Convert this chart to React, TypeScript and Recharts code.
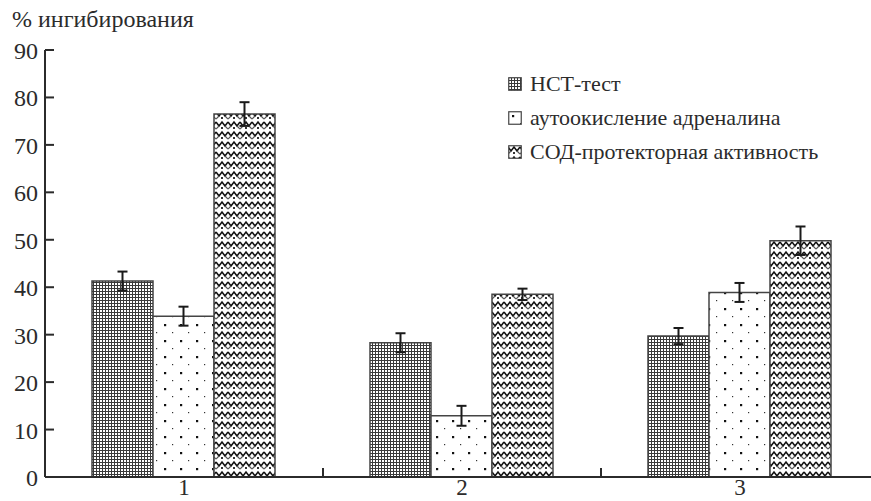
import React from 'react';
import { BarChart, Bar, XAxis, YAxis, ErrorBar, Legend } from 'recharts';

const categories = ['1', '2', '3'];
const nstValues = [41.3, 28.3, 29.7];
const nstErrors = [2.0, 2.0, 1.7];
const adrValues = [33.9, 12.9, 38.9];
const adrErrors = [2.0, 2.1, 2.0];
const sodValues = [76.5, 38.5, 49.8];
const sodErrors = [2.5, 1.2, 3.0];
const seriesNames = ['НСТ-тест', 'аутоокисление адреналина', 'СОД-протекторная активность'];
const patternIds = ['patNst', 'patAdr', 'patSod'];
const yTicks = [0, 10, 20, 30, 40, 50, 60, 70, 80, 90];
const yTitle = '% ингибирования';

const data = categories.map((c, i) => ({
  name: c,
  nst: nstValues[i],
  nstErr: nstErrors[i],
  adr: adrValues[i],
  adrErr: adrErrors[i],
  sod: sodValues[i],
  sodErr: sodErrors[i],
}));

const FONT = 'Liberation Serif, Times New Roman, serif';
const INK = '#2b2b2b';

const XTick = (props: any) => {
  const { x, y, payload, index, visibleTicksCount } = props;
  const half = payload && payload.offset != null ? payload.offset : 139;
  return (
    <g>
      <text x={x} y={y + 18} textAnchor="middle" fontFamily={FONT} fontSize={23} fill={INK}>
        {payload.value}
      </text>
      {index < visibleTicksCount - 1 && (
        <line x1={x + half} x2={x + half} y1={y} y2={y - 9} stroke={INK} strokeWidth={2} />
      )}
    </g>
  );
};

const YTick = (props: any) => {
  const { x, y, payload } = props;
  return (
    <g>
      <line x1={x} x2={x + 9} y1={y} y2={y} stroke={INK} strokeWidth={2} />
      <text x={x - 7} y={y + 9} textAnchor="end" fontFamily={FONT} fontSize={24} fill={INK}>
        {payload.value}
      </text>
    </g>
  );
};

const LegendContent = () => (
  <div style={{ fontFamily: FONT, fontSize: 22, color: INK, whiteSpace: 'nowrap' }}>
    {seriesNames.map((n, i) => (
      <div key={n} style={{ display: 'flex', alignItems: 'center', height: 34 }}>
        <svg width={14} height={14} style={{ marginRight: 8, flex: 'none' }}>
          <rect x={0.75} y={0.75} width={12.5} height={12.5} fill={`url(#${patternIds[i]})`} stroke="#444" strokeWidth={1.2} />
        </svg>
        <span>{n}</span>
      </div>
    ))}
  </div>
);

export default function App() {
  return (
    <div
      style={{
        position: 'fixed',
        left: 0,
        top: 0,
        width: 871,
        height: 501,
        overflow: 'hidden',
        background: '#fff',
      }}
    >
      <div
        style={{
          position: 'absolute',
          left: 12,
          top: 6,
          fontFamily: FONT,
          fontSize: 24,
          color: INK,
          whiteSpace: 'nowrap',
          zIndex: 2,
        }}
      >
        {yTitle}
      </div>
      <BarChart
        width={879}
        height={501}
        data={data}
        margin={{ top: 50, right: 0, bottom: 0, left: 0 }}
        barCategoryGap={47}
        barGap={0}
      >
        <defs>
          <pattern id="patNst" width={3} height={3} patternUnits="userSpaceOnUse">
            <rect width={3} height={3} fill="#fff" />
            <rect width={3} height={1} fill="#3a3a3a" />
            <rect width={1} height={3} fill="#3a3a3a" />
          </pattern>
          <pattern id="patAdr" width={16} height={16} patternUnits="userSpaceOnUse">
            <rect width={16} height={16} fill="#fff" />
            <rect x={4} y={4} width={2.2} height={2.2} fill="#111" />
            <rect x={12} y={12} width={1.2} height={1.2} fill="#333" />
          </pattern>
          <pattern id="patSod" width={12} height={10} patternUnits="userSpaceOnUse">
            <rect width={12} height={10} fill="#fff" />
            <path d="M0,2 L3,6 L6,2 L9,6 L12,2" fill="none" stroke="#111" strokeWidth={1.6} />
            <path d="M0,9 L3,6 M9,6 L12,9" fill="none" stroke="#555" strokeWidth={1.2} />
            <rect x={5} y={7} width={2} height={2} fill="#333" />
          </pattern>
        </defs>
        <XAxis
          dataKey="name"
          axisLine={{ stroke: INK, strokeWidth: 2 }}
          tickLine={false}
          tickSize={0}
          tickMargin={0}
          height={24}
          tick={<XTick />}
          interval={0}
        />
        <YAxis
          domain={[0, 90]}
          ticks={yTicks}
          width={45}
          axisLine={{ stroke: INK, strokeWidth: 2 }}
          tickLine={false}
          tickSize={0}
          tickMargin={0}
          tick={<YTick />}
          interval={0}
        />
        <Legend
          layout="vertical"
          verticalAlign="middle"
          align="center"
          content={<LegendContent />}
          wrapperStyle={{ position: 'absolute', left: 508, top: 67, width: 360, height: 102 }}
        />
        <Bar dataKey="nst" name={seriesNames[0]} fill="url(#patNst)" stroke="#444" strokeWidth={1.5} isAnimationActive={false}>
          <ErrorBar dataKey="nstErr" width={5} stroke="#1a1a1a" strokeWidth={2} />
        </Bar>
        <Bar dataKey="adr" name={seriesNames[1]} fill="url(#patAdr)" stroke="#444" strokeWidth={1.5} isAnimationActive={false}>
          <ErrorBar dataKey="adrErr" width={5} stroke="#1a1a1a" strokeWidth={2} />
        </Bar>
        <Bar dataKey="sod" name={seriesNames[2]} fill="url(#patSod)" stroke="#444" strokeWidth={1.5} isAnimationActive={false}>
          <ErrorBar dataKey="sodErr" width={5} stroke="#1a1a1a" strokeWidth={2} />
        </Bar>
      </BarChart>
    </div>
  );
}
